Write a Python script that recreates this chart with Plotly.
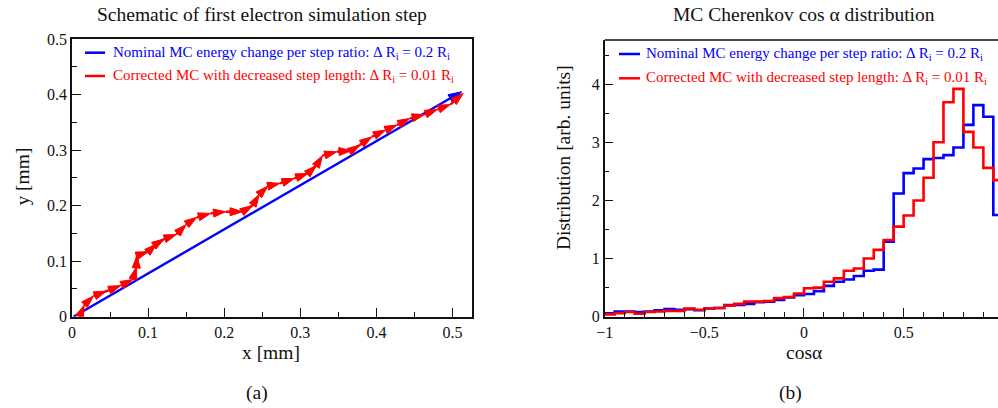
import plotly.graph_objects as go

# ---------------- data ----------------
# (a) schematic of first electron simulation step [mm]
blue_x = [0.002, 0.512]
blue_y = [0.000, 0.405]

red_x = [0.010, 0.016, 0.028, 0.045, 0.064, 0.080, 0.0845, 0.0855, 0.100, 0.111,
         0.121, 0.137, 0.150, 0.164, 0.182, 0.202, 0.224, 0.237, 0.246, 0.257,
         0.273, 0.292, 0.310, 0.321, 0.329, 0.348, 0.367, 0.378, 0.394, 0.412,
         0.427, 0.444, 0.463, 0.480, 0.497, 0.514]
red_y = [0.000, 0.021, 0.037, 0.046, 0.056, 0.067, 0.089, 0.110, 0.117, 0.131,
         0.140, 0.148, 0.166, 0.179, 0.186, 0.189, 0.189, 0.200, 0.220, 0.235,
         0.240, 0.249, 0.258, 0.272, 0.290, 0.297, 0.299, 0.309, 0.324, 0.336,
         0.345, 0.357, 0.364, 0.373, 0.382, 0.402]

# (b) MC Cherenkov cos(alpha) distribution, 40 bins from -1 to 1
bin_edges = [round(-1 + 0.05 * i, 2) for i in range(41)]
blue_hist = [0.06, 0.09, 0.09, 0.08, 0.09, 0.11, 0.13, 0.12, 0.13, 0.11,
             0.14, 0.15, 0.20, 0.20, 0.22, 0.25, 0.26, 0.29, 0.33, 0.37,
             0.39, 0.44, 0.53, 0.60, 0.64, 0.70, 0.79, 0.81, 1.29, 2.12,
             2.47, 2.55, 2.71, 2.73, 2.78, 2.91, 3.30, 3.64, 3.44, 1.75]
red_hist = [0.04, 0.06, 0.08, 0.05, 0.08, 0.09, 0.10, 0.10, 0.14, 0.12,
            0.14, 0.15, 0.19, 0.22, 0.26, 0.26, 0.27, 0.32, 0.34, 0.40,
            0.49, 0.50, 0.60, 0.66, 0.79, 0.83, 1.00, 1.15, 1.32, 1.55,
            1.74, 2.00, 2.39, 3.00, 3.69, 3.92, 3.18, 2.91, 2.56, 2.35]

legend_blue = "Nominal MC energy change per step ratio: \u0394 R<sub>i</sub> = 0.2 R<sub>i</sub>"
legend_red = "Corrected MC with decreased step length: \u0394 R<sub>i</sub> = 0.01 R<sub>i</sub>"

BLUE = "#0000ff"
RED = "#ff0000"
FONT = "Liberation Serif, Times New Roman, serif"

W, H = 998, 408


def px_x(p):
    return p / W


def px_y(p):
    return 1 - p / H


fig = go.Figure()

# ---- panel (a) ----
fig.add_trace(go.Scatter(
    x=blue_x, y=blue_y, mode="lines+markers", xaxis="x", yaxis="y",
    line=dict(color=BLUE, width=2.4),
    marker=dict(symbol="arrow", size=[0, 14], color=BLUE, angleref="previous",
                opacity=1, line=dict(width=1, color=BLUE)),
    showlegend=False, hoverinfo="skip"))
fig.add_trace(go.Scatter(
    x=red_x, y=red_y, mode="lines+markers", xaxis="x", yaxis="y",
    line=dict(color=RED, width=2.4),
    marker=dict(symbol="arrow", size=[0] + [13] * (len(red_x) - 1), color=RED,
                angleref="previous", opacity=1, line=dict(width=1, color=RED)),
    showlegend=False, hoverinfo="skip"))

# ---- panel (b) ----
fig.add_trace(go.Scatter(
    x=bin_edges, y=blue_hist + [blue_hist[-1]], mode="lines", xaxis="x2", yaxis="y2",
    line=dict(color=BLUE, width=2.6, shape="hv"), showlegend=False, hoverinfo="skip"))
fig.add_trace(go.Scatter(
    x=bin_edges, y=red_hist + [red_hist[-1]], mode="lines", xaxis="x2", yaxis="y2",
    line=dict(color=RED, width=2.6, shape="hv"), showlegend=False, hoverinfo="skip"))

ydom = [px_y(316.7), px_y(39)]
ydom2 = [px_y(316.7), px_y(40)]

axis_common = dict(
    showgrid=False, zeroline=False, showline=True, linecolor="#111", linewidth=1.5,
    ticks="inside", ticklen=9, tickwidth=1.2, tickcolor="#111", automargin=False,
    tickfont=dict(family=FONT, size=16, color="#111"),
)
minor_common = dict(ticks="inside", ticklen=5, tickwidth=1.2, tickcolor="#111")

fig.update_layout(
    width=W, height=H,
    margin=dict(l=0, r=0, t=0, b=0, pad=0, autoexpand=False),
    paper_bgcolor="white", plot_bgcolor="white",
    xaxis=dict(domain=[px_x(72), px_x(472)], range=[0, 0.5256], tick0=0, dtick=0.1,
               mirror=True, anchor="y", minor=dict(dtick=0.05, **minor_common),
               **axis_common),
    yaxis=dict(domain=ydom, range=[0, 0.5], tick0=0, dtick=0.1, mirror=True, anchor="x",
               minor=dict(dtick=0.05, **minor_common), **axis_common),
    xaxis2=dict(domain=[px_x(604.7), 1.0], range=[-1, 0.9735], tick0=-1, dtick=0.5,
                mirror=False, anchor="y2", minor=dict(dtick=0.1, **minor_common),
                **axis_common),
    yaxis2=dict(domain=ydom2, range=[0, 4.76], tick0=0, dtick=1, mirror=False, anchor="x2",
                minor=dict(dtick=0.5, **minor_common), **axis_common),
)

# top frame line of panel (b)
fig.add_shape(type="line", xref="paper", yref="paper",
              x0=px_x(604.7), x1=1.0, y0=ydom2[1], y1=ydom2[1],
              line=dict(color="#111", width=1.5))

# legends (drawn manually)
legend_rows = [
    # (line x0, line x1, text x, y, text, color)
    (85, 105, 111, 52.7, legend_blue, BLUE),
    (85, 105, 111, 76.0, legend_red, RED),
    (619, 640, 644, 54.0, legend_blue, BLUE),
    (619, 640, 644, 78.3, legend_red, RED),
]
for x0, x1, xt, yy, txt, col in legend_rows:
    fig.add_shape(type="line", xref="paper", yref="paper",
                  x0=px_x(x0), x1=px_x(x1), y0=px_y(yy), y1=px_y(yy),
                  line=dict(color=col, width=2.5))
    fig.add_annotation(x=px_x(xt), y=px_y(yy), xref="paper", yref="paper",
                       text=txt, showarrow=False, xanchor="left", yanchor="middle",
                       font=dict(family=FONT, size=15, color=col))

# titles and labels
texts = [
    (262, 15, "Schematic of first electron simulation step", 19.5, 0),
    (804, 15, "MC Cherenkov cos \u03b1 distribution", 19.5, 0),
    (271, 352, "x [mm]", 19.5, 0),
    (804, 352, "cos\u03b1", 19.5, 0),
    (21.5, 177, "y [mm]", 19.5, -90),
    (564, 158, "Distribution [arb. units]", 19.5, -90),
    (257, 393, "(a)", 19.5, 0),
    (790, 393, "(b)", 19.5, 0),
]
for xx, yy, txt, sz, ang in texts:
    fig.add_annotation(x=px_x(xx), y=px_y(yy), xref="paper", yref="paper",
                       text=txt, showarrow=False, xanchor="center", yanchor="middle",
                       textangle=ang, font=dict(family=FONT, size=sz, color="#111"))

fig.write_html("out.html")
